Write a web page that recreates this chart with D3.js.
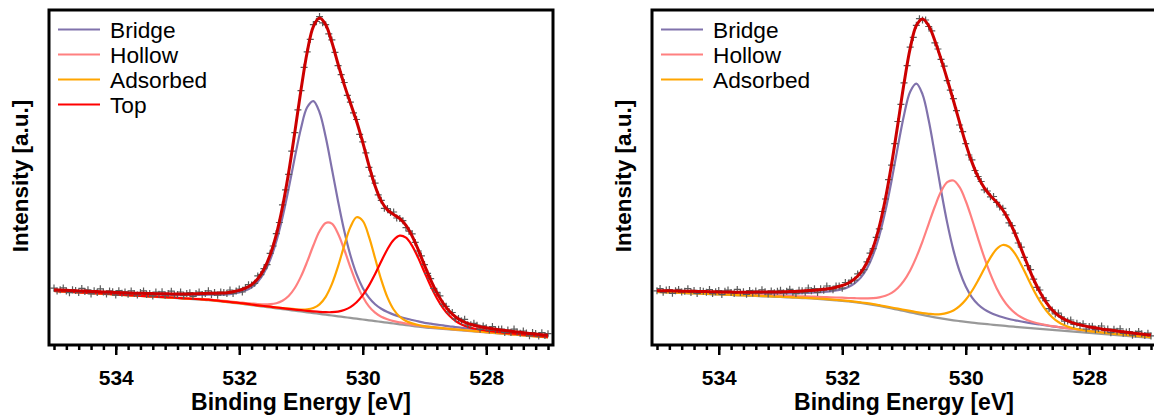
<!DOCTYPE html>
<html><head><meta charset="utf-8">
<script src="https://cdn.jsdelivr.net/npm/d3@7"></script>
<style>
body{margin:0;background:#fff}
svg{display:block}
text{font-family:Arial,"Liberation Sans",sans-serif;fill:#000}
</style>
</head><body>
<svg id="chart" width="1154" height="416"></svg>
<script>
// ---------- shared axis values ----------
const energy = [535.0,534.9,534.8,534.7,534.6,534.5,534.4,534.3,534.2,534.1,534.0,533.9,533.8,533.7,533.6,533.5,533.4,533.3,533.2,533.1,533.0,532.9,532.8,532.7,532.6,532.5,532.4,532.3,532.2,532.1,532.0,531.9,531.8,531.7,531.6,531.5,531.4,531.3,531.2,531.1,531.0,530.9,530.8,530.7,530.6,530.5,530.4,530.3,530.2,530.1,530.0,529.9,529.8,529.7,529.6,529.5,529.4,529.3,529.2,529.1,529.0,528.9,528.8,528.7,528.6,528.5,528.4,528.3,528.2,528.1,528.0,527.9,527.8,527.7,527.6,527.5,527.4,527.3,527.2,527.1,527.0];
const dataEnergy = [535.00,534.95,534.90,534.85,534.80,534.75,534.70,534.65,534.60,534.55,534.50,534.45,534.40,534.35,534.30,534.25,534.20,534.15,534.10,534.05,534.00,533.95,533.90,533.85,533.80,533.75,533.70,533.65,533.60,533.55,533.50,533.45,533.40,533.35,533.30,533.25,533.20,533.15,533.10,533.05,533.00,532.95,532.90,532.85,532.80,532.75,532.70,532.65,532.60,532.55,532.50,532.45,532.40,532.35,532.30,532.25,532.20,532.15,532.10,532.05,532.00,531.95,531.90,531.85,531.80,531.75,531.70,531.65,531.60,531.55,531.50,531.45,531.40,531.35,531.30,531.25,531.20,531.15,531.10,531.05,531.00,530.95,530.90,530.85,530.80,530.75,530.70,530.65,530.60,530.55,530.50,530.45,530.40,530.35,530.30,530.25,530.20,530.15,530.10,530.05,530.00,529.95,529.90,529.85,529.80,529.75,529.70,529.65,529.60,529.55,529.50,529.45,529.40,529.35,529.30,529.25,529.20,529.15,529.10,529.05,529.00,528.95,528.90,528.85,528.80,528.75,528.70,528.65,528.60,528.55,528.50,528.45,528.40,528.35,528.30,528.25,528.20,528.15,528.10,528.05,528.00,527.95,527.90,527.85,527.80,527.75,527.70,527.65,527.60,527.55,527.50,527.45,527.40,527.35,527.30,527.25,527.20,527.15,527.10,527.05,527.00];
const majorTicks = [534,532,530,528];
const minorTicks = [535.0,534.8,534.6,534.4,534.2,534.0,533.8,533.6,533.4,533.2,533.0,532.8,532.6,532.4,532.2,532.0,531.8,531.6,531.4,531.2,531.0,530.8,530.6,530.4,530.2,530.0,529.8,529.6,529.4,529.2,529.0,528.8,528.6,528.4,528.2,528.0,527.8,527.6,527.4,527.2,527.0];
const xTitle = "Binding Energy [eV]";
const yTitle = "Intensity [a.u.]";

// ---------- left panel (4 components) ----------
const leftBackground = [54.0,53.6,53.3,52.9,52.6,52.2,51.8,51.5,51.1,50.8,50.4,50.0,49.7,49.3,49.0,48.6,48.2,47.9,47.5,47.2,46.8,46.4,46.0,45.7,45.3,44.9,44.3,43.6,42.9,42.2,41.5,40.7,39.9,39.1,38.3,37.5,36.7,35.9,35.1,34.3,33.5,32.7,31.9,31.1,30.3,29.5,28.7,27.9,27.1,26.3,25.5,24.7,23.9,23.1,22.3,21.5,20.7,19.9,19.1,18.3,17.5,17.0,16.5,16.0,15.5,15.0,14.5,14.0,13.5,13.0,12.5,12.0,11.5,11.0,10.5,10.0,9.5,9.0,8.5,8.0,7.5];
const leftBridge = [0.9,0.9,1.0,1.0,1.1,1.2,1.2,1.3,1.4,1.5,1.6,1.7,1.8,1.9,2.1,2.2,2.4,2.6,2.8,3.0,3.3,3.6,4.0,4.4,4.8,5.4,6.0,6.8,7.8,9.2,11.0,13.7,17.8,24.1,33.7,47.6,66.9,91.7,121.3,153.3,183.3,205.0,212.0,201.6,177.7,146.8,115.1,86.3,62.6,44.5,31.5,22.6,16.8,13.1,10.6,8.9,7.6,6.6,5.9,5.3,4.7,4.3,3.9,3.6,3.2,3.0,2.7,2.5,2.4,2.2,2.0,1.9,1.8,1.7,1.6,1.5,1.4,1.3,1.2,1.1,1.1];
const leftHollow = [0.2,0.2,0.2,0.2,0.2,0.2,0.3,0.3,0.3,0.3,0.3,0.3,0.3,0.3,0.3,0.3,0.3,0.3,0.4,0.4,0.4,0.5,0.5,0.5,0.6,0.7,0.7,0.8,0.9,1.0,1.2,1.3,1.6,1.9,2.4,3.4,5.1,8.4,13.9,22.7,35.1,50.6,67.6,82.6,91.8,91.8,82.6,67.6,50.6,35.1,22.7,13.9,8.4,5.1,3.4,2.4,1.9,1.6,1.3,1.2,1.0,0.9,0.8,0.7,0.7,0.6,0.5,0.5,0.5,0.4,0.4,0.4,0.3,0.3,0.3,0.3,0.3,0.3,0.3,0.3,0.3];
const leftAdsorbed = [0.1,0.1,0.1,0.1,0.1,0.1,0.1,0.1,0.1,0.1,0.1,0.1,0.1,0.1,0.1,0.2,0.2,0.2,0.2,0.2,0.2,0.2,0.2,0.3,0.3,0.3,0.3,0.3,0.3,0.4,0.4,0.5,0.5,0.6,0.7,0.8,0.9,1.0,1.2,1.5,2.0,3.0,5.2,9.6,17.9,31.3,49.9,71.5,90.8,101.4,98.6,83.7,62.8,42.0,25.3,14.0,7.5,4.1,2.5,1.7,1.3,1.1,0.9,0.8,0.7,0.6,0.6,0.5,0.4,0.4,0.4,0.3,0.3,0.3,0.3,0.3,0.2,0.2,0.2,0.2,0.2];
const leftTop = [0.1,0.1,0.1,0.1,0.1,0.2,0.2,0.2,0.2,0.2,0.2,0.2,0.2,0.2,0.2,0.3,0.3,0.3,0.3,0.3,0.3,0.3,0.3,0.3,0.4,0.4,0.4,0.4,0.4,0.5,0.5,0.6,0.6,0.6,0.7,0.8,0.8,0.9,1.0,1.1,1.3,1.5,1.7,2.0,2.5,3.3,4.7,7.1,10.8,16.4,24.3,34.7,47.1,60.6,73.5,83.6,88.7,87.4,80.1,68.6,55.2,41.9,30.3,20.9,13.9,9.1,6.0,4.1,3.0,2.3,1.9,1.6,1.4,1.2,1.1,1.0,0.9,0.8,0.7,0.7,0.6];
const leftEnvelope = [55.3,54.9,54.7,54.3,54.1,53.9,53.6,53.4,53.1,52.9,52.6,52.3,52.1,51.8,51.7,51.6,51.4,51.3,51.2,51.1,51.0,51.0,51.0,51.2,51.4,51.7,51.7,51.9,52.3,53.3,54.6,56.8,60.4,66.3,75.8,90.1,110.4,137.9,172.5,212.9,255.2,292.8,318.4,326.9,320.2,302.7,281.0,260.4,241.9,223.7,202.6,179.6,159.0,143.9,135.1,130.4,126.4,119.6,108.9,95.1,79.7,65.2,52.4,42.0,34.0,28.3,24.3,21.6,19.8,18.3,17.2,16.2,15.3,14.5,13.8,13.1,12.3,11.6,10.9,10.3,9.7];
const leftData = [56.9,54.0,55.3,57.1,54.0,52.3,55.3,54.4,52.6,56.6,53.6,55.2,51.1,54.3,52.5,56.2,53.0,51.1,54.1,53.3,49.9,54.3,51.7,53.1,50.8,54.1,51.6,50.1,52.4,54.1,50.6,51.6,49.1,52.9,50.8,53.2,49.8,51.5,53.8,50.3,50.6,53.0,49.4,51.6,52.3,48.7,51.4,53.0,50.5,51.5,54.2,50.5,52.6,49.8,53.0,52.5,51.6,55.0,51.5,53.9,56.0,53.0,57.6,60.3,59.9,61.7,69.1,70.4,76.3,80.4,91.7,99.0,111.4,122.5,140.2,155.2,170.6,193.8,212.3,235.1,254.4,277.7,293.1,305.6,320.3,323.5,328.4,322.2,320.3,311.2,305.1,292.7,279.3,270.4,262.5,249.7,242.8,232.2,225.5,210.6,203.1,192.2,177.7,168.9,161.9,150.1,144.7,136.7,136.5,132.4,133.0,127.0,126.6,124.3,117.4,113.8,111.2,102.6,94.0,89.1,80.4,71.7,66.4,56.7,52.7,49.2,40.9,38.7,33.2,32.5,26.2,26.6,24.0,25.7,20.2,20.2,21.7,19.8,15.7,19.1,17.2,14.9,18.4,15.0,15.7,16.0,12.5,15.0,12.6,15.9,13.0,11.8,14.0,12.1,9.2,12.5,11.5,9.0,12.3,9.6,11.3];

// ---------- right panel (3 components) ----------
const rightBackground = [53.0,52.7,52.5,52.2,52.0,51.7,51.5,51.2,51.0,50.7,50.5,50.2,50.0,49.7,49.5,49.2,49.0,48.7,48.5,48.2,48.0,47.7,47.4,47.1,46.8,46.5,46.1,45.7,45.2,44.7,44.2,43.6,42.9,42.1,41.2,40.2,39.1,37.9,36.6,35.3,34.0,32.7,31.4,30.1,28.9,27.7,26.6,25.6,24.7,23.9,23.1,22.4,21.7,21.1,20.5,19.9,19.3,18.7,18.2,17.7,17.2,16.7,16.2,15.7,15.2,14.7,14.2,13.7,13.2,12.7,12.2,11.7,11.2,10.7,10.2,9.7,9.2,8.7,8.2,7.7,7.2];
const rightBridge = [1.0,1.0,1.1,1.2,1.2,1.3,1.4,1.4,1.5,1.6,1.7,1.8,1.9,2.1,2.2,2.4,2.6,2.8,3.0,3.2,3.5,3.9,4.3,4.7,5.2,5.8,6.5,7.3,8.4,9.8,11.7,14.5,18.8,25.3,35.3,49.9,70.2,96.5,128.2,162.8,195.8,220.6,230.0,220.6,195.8,162.8,128.2,96.5,70.2,49.9,35.3,25.3,18.8,14.5,11.7,9.8,8.4,7.3,6.5,5.8,5.2,4.7,4.3,3.9,3.5,3.2,3.0,2.8,2.6,2.4,2.2,2.1,1.9,1.8,1.7,1.6,1.5,1.4,1.4,1.3,1.2];
const rightHollow = [0.5,0.5,0.5,0.5,0.5,0.6,0.6,0.6,0.7,0.7,0.7,0.8,0.8,0.8,0.9,0.9,1.0,1.1,1.1,1.2,1.3,1.4,1.5,1.6,1.8,1.9,2.1,2.3,2.5,2.8,3.1,3.4,3.9,4.5,5.4,6.6,8.5,11.3,15.5,21.7,30.4,41.9,56.5,73.6,92.3,110.8,126.8,137.2,139.8,133.9,120.9,103.6,84.7,66.5,50.3,36.9,26.6,19.0,13.6,10.0,7.6,6.0,5.0,4.3,3.7,3.3,2.9,2.7,2.4,2.2,2.0,1.9,1.7,1.6,1.5,1.4,1.3,1.2,1.1,1.0,1.0];
const rightAdsorbed = [0.1,0.1,0.1,0.1,0.1,0.2,0.2,0.2,0.2,0.2,0.2,0.2,0.2,0.2,0.2,0.3,0.3,0.3,0.3,0.3,0.3,0.3,0.3,0.3,0.4,0.4,0.4,0.4,0.4,0.5,0.5,0.5,0.5,0.5,0.6,0.7,0.7,0.8,0.9,1.0,1.2,1.4,1.5,1.8,2.3,3.0,4.3,6.5,9.8,14.9,22.1,31.6,42.9,55.1,66.9,76.1,80.7,79.5,72.9,62.4,50.2,38.1,27.6,19.0,12.6,8.3,5.5,3.7,2.7,2.1,1.7,1.5,1.3,1.1,1.0,0.9,0.8,0.7,0.6,0.6,0.5];
const rightEnvelope = [54.6,54.3,54.2,54.0,53.8,53.8,53.7,53.4,53.4,53.2,53.1,53.0,52.9,52.8,52.8,52.8,52.9,52.9,52.9,52.9,53.1,53.3,53.5,53.7,54.2,54.6,55.1,55.7,56.5,57.8,59.5,62.0,66.1,72.4,82.5,97.4,118.5,146.5,181.2,220.8,261.4,296.6,319.4,326.1,319.3,304.3,285.9,265.8,244.5,222.6,201.4,182.9,168.1,157.2,149.4,142.7,135.0,124.5,111.2,95.9,80.2,65.5,53.1,42.9,35.0,29.5,25.6,22.9,20.9,19.4,18.1,17.2,16.1,15.2,14.4,13.6,12.8,12.0,11.3,10.6,9.9];
const rightData = [54.2,56.5,52.7,54.9,55.5,51.7,54.2,55.6,52.9,53.7,56.3,52.6,54.6,51.6,54.5,53.8,52.7,55.5,51.4,53.2,54.5,50.5,53.8,54.9,52.4,51.5,55.6,52.5,53.3,50.7,54.4,52.1,53.9,51.8,55.2,53.2,51.0,54.1,52.3,53.7,54.7,52.1,53.7,55.7,52.8,51.4,54.7,54.2,52.7,57.0,54.3,56.3,52.6,56.2,54.8,59.0,56.4,55.2,59.0,59.1,56.8,62.5,61.4,64.8,64.8,71.1,72.2,75.3,83.2,91.9,96.4,107.6,116.2,133.5,146.0,165.4,179.8,201.3,223.5,240.7,262.1,279.4,297.8,307.6,319.7,326.3,325.0,325.0,318.5,314.1,302.2,296.0,285.6,278.8,264.4,254.8,246.4,234.4,220.0,213.3,201.4,190.0,185.1,174.5,168.5,163.5,155.2,154.0,148.2,148.5,142.6,138.1,136.7,130.2,122.1,119.3,111.8,102.0,97.9,87.6,79.4,75.4,65.8,57.6,55.0,47.2,44.4,36.4,35.1,31.1,31.9,28.1,23.9,24.0,25.0,20.6,21.8,19.5,21.2,16.0,18.6,18.8,15.3,16.5,19.0,14.7,16.0,12.3,15.8,13.7,16.2,11.7,13.0,13.4,9.8,10.9,13.6,11.3,9.5,11.8,9.1];

// ---------- styles ----------
const colors = {Bridge:"#8072ac", Hollow:"#ff8080", Adsorbed:"#ffa500", Top:"#ff0000", envelope:"#cc0000", background:"#999999", data:"#5a5a5a"};

const svg = d3.select("#chart");

function drawPanel(offsetX, bg, comps, envelope, data) {
  const x = d3.scaleLinear().domain([535, 527]).range([54 + offsetX, 548 + offsetX]);
  const y = d3.scaleLinear().domain([0, 335]).range([345, 10]);
  const g = svg.append("g");
  const line = d3.line().x((d, i) => x(energy[i])).y(d => y(d)).curve(d3.curveCatmullRom.alpha(0.5));

  // Shirley background
  g.append("path").attr("d", line(bg)).attr("fill", "none")
    .attr("stroke", colors.background).attr("stroke-width", 2.2);

  // components on top of background
  comps.forEach(c => {
    g.append("path").attr("d", line(c.values.map((v, i) => v + bg[i]))).attr("fill", "none")
      .attr("stroke", colors[c.name]).attr("stroke-width", 2.2);
  });

  // measured data (+ markers)
  const plus = "M-3.5,0H3.5M0,-3.5V3.5";
  g.append("g").selectAll("path").data(data).join("path")
    .attr("d", plus)
    .attr("transform", (d, i) => `translate(${x(dataEnergy[i])},${y(d)})`)
    .attr("stroke", colors.data).attr("stroke-width", 1.2).attr("fill", "none");

  // envelope
  g.append("path").attr("d", line(envelope)).attr("fill", "none")
    .attr("stroke", colors.envelope).attr("stroke-width", 3);

  // frame
  const [r0, r1] = x.range();
  g.append("rect").attr("x", r0 - 5).attr("y", 10).attr("width", r1 - r0 + 10).attr("height", 335)
    .attr("fill", "none").attr("stroke", "#000").attr("stroke-width", 3);

  // x axis: minor and major ticks
  const minorAxis = d3.axisBottom(x).tickValues(minorTicks).tickSize(5).tickFormat("");
  const ga = g.append("g").attr("transform", "translate(0,345)").call(minorAxis);
  ga.select(".domain").remove();
  ga.selectAll(".tick line").attr("stroke", "#000").attr("stroke-width", 2.5);

  const majorAxis = d3.axisBottom(x).tickValues(majorTicks).tickSize(10).tickPadding(15).tickFormat(d3.format("d"));
  const gm = g.append("g").attr("transform", "translate(0,345)").call(majorAxis);
  gm.select(".domain").remove();
  gm.selectAll(".tick line").attr("stroke", "#000").attr("stroke-width", 2.5);
  gm.selectAll(".tick text").attr("font-size", 21).attr("font-weight", "bold")
    .attr("font-family", "Arial, 'Liberation Sans', sans-serif").attr("fill", "#000");

  // axis titles
  g.append("text").attr("x", (r0 + r1) / 2).attr("y", 410).attr("text-anchor", "middle")
    .attr("font-size", 23).attr("font-weight", "bold").text(xTitle);
  g.append("text").attr("transform", `translate(${28 + offsetX},176) rotate(-90)`).attr("text-anchor", "middle")
    .attr("font-size", 22.5).attr("font-weight", "bold").text(yTitle);

  // legend
  comps.forEach((c, i) => {
    const ly = 29.5 + i * 25;
    g.append("line").attr("x1", 58 + offsetX).attr("x2", 100 + offsetX).attr("y1", ly).attr("y2", ly)
      .attr("stroke", colors[c.name]).attr("stroke-width", 2.2);
    g.append("text").attr("x", 110 + offsetX).attr("y", ly).attr("dy", "0.36em")
      .attr("font-size", 22.7).text(c.name);
  });
}

drawPanel(0, leftBackground,
  [{name:"Bridge", values:leftBridge},{name:"Hollow", values:leftHollow},{name:"Adsorbed", values:leftAdsorbed},{name:"Top", values:leftTop}],
  leftEnvelope, leftData);
drawPanel(603, rightBackground,
  [{name:"Bridge", values:rightBridge},{name:"Hollow", values:rightHollow},{name:"Adsorbed", values:rightAdsorbed}],
  rightEnvelope, rightData);
</script>
</body></html>
